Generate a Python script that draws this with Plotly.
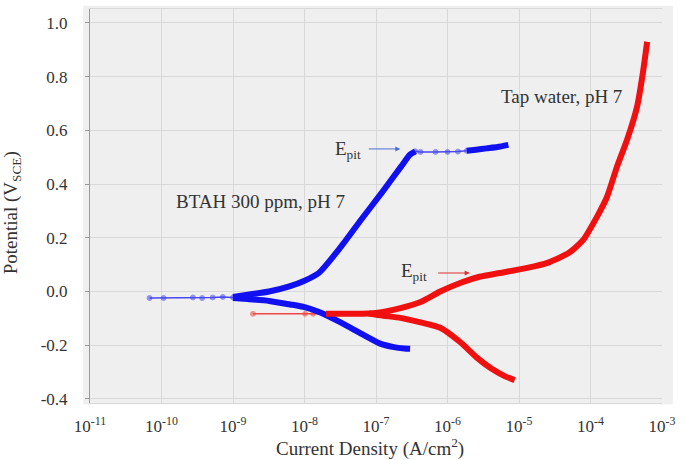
import plotly.graph_objects as go

# ---- data (current density A/cm^2, potential V vs SCE) ----
btah_sparse_i = [6.8e-11, 1.07e-10, 2.75e-10, 3.7e-10, 5.2e-10, 7.2e-10, 1.0e-9]
btah_sparse_e = [-0.024, -0.024, -0.022, -0.024, -0.022, -0.020, -0.022]

btah_anodic_i = [1.0e-9, 1.6e-9, 3.2e-9, 6.3e-9, 1.0e-8, 1.6e-8, 3.2e-8, 6.3e-8,
                 1.26e-7, 2.24e-7, 3.0e-7, 3.55e-7]
btah_anodic_e = [-0.020, -0.012, 0.000, 0.020, 0.040, 0.070, 0.165, 0.270,
                 0.375, 0.465, 0.510, 0.522]

btah_pit_sparse_i = [3.55e-7, 4.2e-7, 6.8e-7, 1.0e-6, 1.4e-6, 1.86e-6]
btah_pit_sparse_e = [0.522, 0.520, 0.520, 0.520, 0.521, 0.524]
btah_pit_i = [1.86e-6, 2.5e-6, 3.5e-6, 5.0e-6, 7.1e-6]
btah_pit_e = [0.524, 0.528, 0.533, 0.538, 0.546]

btah_cathodic_i = [1.0e-9, 1.6e-9, 3.2e-9, 6.3e-9, 1.0e-8, 1.6e-8, 3.2e-8, 6.3e-8,
                   1.12e-7, 1.78e-7, 2.5e-7, 3.0e-7]
btah_cathodic_e = [-0.024, -0.028, -0.035, -0.048, -0.058, -0.076, -0.115, -0.158,
                   -0.193, -0.207, -0.212, -0.213]

tap_sparse_i = [1.9e-9, 1.02e-8, 1.32e-8, 2.0e-8]
tap_sparse_e = [-0.083, -0.083, -0.083, -0.083]

tap_anodic_i = [2.0e-8, 4.0e-8, 7.9e-8, 1.26e-7, 2.2e-7, 4.2e-7, 7.9e-7, 1.5e-6,
                2.8e-6, 5.4e-6, 1.3e-5, 2.5e-5, 5.0e-5, 7.9e-5, 1.23e-4, 1.7e-4,
                2.34e-4, 3.24e-4, 4.47e-4, 5.4e-4, 6.2e-4]
tap_anodic_e = [-0.083, -0.083, -0.082, -0.076, -0.062, -0.039, 0.000, 0.032,
                0.055, 0.069, 0.088, 0.107, 0.144, 0.192, 0.278, 0.352,
                0.464, 0.564, 0.687, 0.814, 0.930]

tap_cathodic_i = [7.9e-8, 1.26e-7, 2.2e-7, 4.2e-7, 7.9e-7, 1.5e-6, 2.6e-6,
                  4.0e-6, 6.3e-6, 8.7e-6]
tap_cathodic_e = [-0.082, -0.090, -0.098, -0.115, -0.135, -0.188, -0.247,
                  -0.285, -0.315, -0.330]

x_tick_exps = [-11, -10, -9, -8, -7, -6, -5, -4, -3]
y_tick_vals = [-0.4, -0.2, 0.0, 0.2, 0.4, 0.6, 0.8, 1.0]

BLUE = "#1010F0"
RED = "#F01010"
FONT = "Liberation Serif"
TXT = "#333333"

fig = go.Figure()

def sparse(x, y, color):
    fig.add_trace(go.Scatter(
        x=x, y=y, mode="lines+markers",
        line=dict(color=color, width=1.5),
        marker=dict(size=5, color=color, opacity=0.55,
                    line=dict(color=color, width=1)),
        opacity=0.75, hoverinfo="x+y"))

def dense(x, y, color):
    fig.add_trace(go.Scatter(
        x=x, y=y, mode="lines",
        line=dict(color=color, width=6, shape="spline", smoothing=0.6),
        hoverinfo="x+y"))

sparse(btah_sparse_i, btah_sparse_e, BLUE)
sparse(btah_pit_sparse_i, btah_pit_sparse_e, BLUE)
sparse(tap_sparse_i, tap_sparse_e, RED)
dense(btah_anodic_i, btah_anodic_e, BLUE)
dense(btah_cathodic_i, btah_cathodic_e, BLUE)
dense(btah_pit_i, btah_pit_e, BLUE)
dense(tap_anodic_i, tap_anodic_e, RED)
dense(tap_cathodic_i, tap_cathodic_e, RED)

fig.update_layout(
    width=686, height=460,
    margin=dict(l=90, r=24, t=9, b=57),
    paper_bgcolor="white",
    plot_bgcolor="#EFEFEF",
    showlegend=False,
    font=dict(family=FONT, color=TXT, size=17),
    shapes=[dict(type="rect", xref="paper", yref="paper",
                 x0=-0.012, x1=1.019, y0=-0.003, y1=1.008,
                 fillcolor="#EFEFEF", line=dict(width=0), layer="below")],
)

fig.update_xaxes(
    type="log", range=[-11, -3], automargin=False,
    tickvals=[10.0 ** e for e in x_tick_exps],
    ticktext=[f"10<sup>{e}</sup>" for e in x_tick_exps],
    showgrid=True, gridcolor="#D8D8D8", gridwidth=1,
    showline=True, mirror=True, linecolor="#D8D8D8",
    zeroline=False, ticks="", ticklabelstandoff=8,
    tickfont=dict(family=FONT, size=17, color=TXT),
)

fig.update_yaxes(
    range=[-0.415, 1.052], automargin=False,
    tickvals=y_tick_vals,
    ticktext=[f"{v:.1f}" for v in y_tick_vals],
    showgrid=True, gridcolor="#D8D8D8", gridwidth=1,
    showline=True, linecolor="#9A9A9A", linewidth=1,
    zeroline=False, ticks="outside", ticklen=4, tickcolor="#9A9A9A",
    ticklabelstandoff=14,
    tickfont=dict(family=FONT, size=17, color=TXT),
)

# axis titles
fig.add_annotation(xref="paper", yref="paper", x=0.49, y=-0.112,
                   xanchor="center", yanchor="middle", showarrow=False,
                   text="Current Density (A/cm<sup>2</sup>)",
                   font=dict(family=FONT, size=19, color=TXT))
fig.add_annotation(xref="paper", yref="paper", x=-0.136, y=0.482,
                   xanchor="center", yanchor="middle", showarrow=False,
                   textangle=-90, text="Potential (V<sub>SCE</sub>)",
                   font=dict(family=FONT, size=19, color=TXT))

ann = dict(xref="x", yref="y", showarrow=False,
           font=dict(family=FONT, size=19, color=TXT))
fig.add_annotation(x=-4.41, y=0.725, text="Tap water, pH 7", **ann)
fig.add_annotation(x=-8.62, y=0.334, text="BTAH 300 ppm, pH 7", **ann)
fig.add_annotation(x=-7.39, y=0.527, text="E<sub>pit</sub>", **ann)
fig.add_annotation(x=-6.47, y=0.073, text="E<sub>pit</sub>", **ann)

fig.add_annotation(xref="x", yref="y", x=-6.66, y=0.531, text="",
                   showarrow=True, ax=-33, ay=0, arrowhead=2, arrowsize=1,
                   arrowwidth=1, arrowcolor="#4A6FD0")
fig.add_annotation(xref="x", yref="y", x=-5.69, y=0.069, text="",
                   showarrow=True, ax=-33, ay=0, arrowhead=2, arrowsize=1,
                   arrowwidth=1, arrowcolor="#E03030")

fig.write_html("out.html")
